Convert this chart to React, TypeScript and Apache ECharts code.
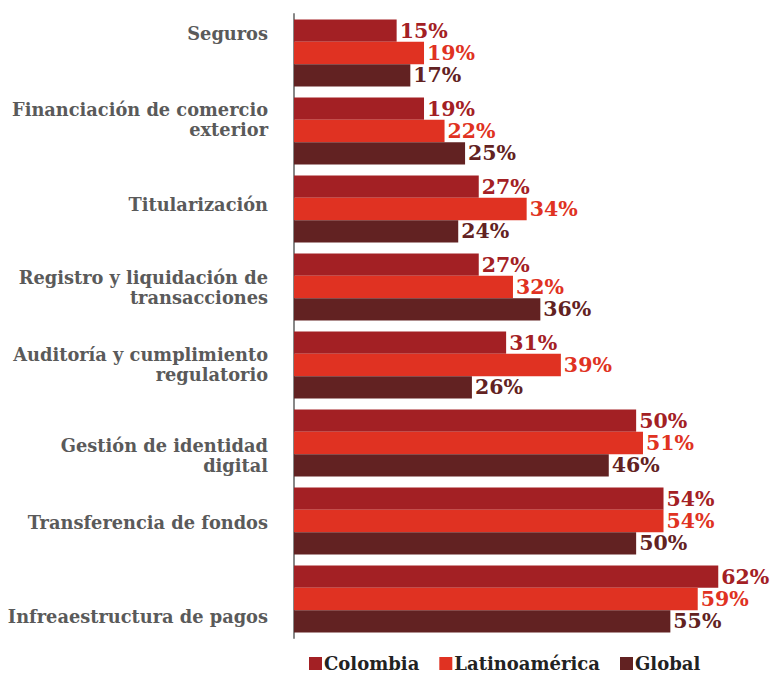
import React, { useEffect, useRef } from "react";
import * as echarts from "echarts";

const categories = [
  "Seguros",
  "Financiación de comercio\nexterior",
  "Titularización",
  "Registro y liquidación de\ntransacciones",
  "Auditoría y cumplimiento\nregulatorio",
  "Gestión de identidad\ndigital",
  "Transferencia de fondos",
  "Infreaestructura de pagos",
];
const colombia = [15, 19, 27, 27, 31, 50, 54, 62];
const latam = [19, 22, 34, 32, 39, 51, 54, 59];
const globalVals = [17, 25, 24, 36, 26, 46, 50, 55];
const seriesNames = ["Colombia", "Latinoamérica", "Global"];

// vertical nudges of the category labels (px, negative = up)
const labelNudge = [-20, -12, -5, 0, -1, 12, 1, 17];

const colors = ["#a32024", "#e03222", "#622222"];
const FONT = "DejaVu Serif";

export default function App() {
  const ref = useRef<HTMLDivElement>(null);
  useEffect(() => {
    const chart = echarts.init(ref.current!, null, { renderer: "svg" });
    const rich: any = {
      t: { fontFamily: FONT, fontWeight: "bold", fontSize: 17.8, color: "#5a5a5a", lineHeight: 20 },
    };
    labelNudge.forEach((d, i) => {
      rich["s" + i] = { height: Math.abs(d) * 2, lineHeight: Math.abs(d) * 2, fontSize: 1 };
    });
    const mk = (name: string, data: number[], color: string) => ({
      name,
      type: "bar",
      data,
      barGap: "0%",
      barCategoryGap: "14%",
      itemStyle: { color },
      label: {
        show: true,
        position: "right",
        distance: 3,
        formatter: "{c}%",
        color,
        fontFamily: FONT,
        fontWeight: "bold",
        fontSize: 20.5,
        lineHeight: 21,
      },
    });
    chart.setOption({
      animation: false,
      grid: { left: 294, right: 0, top: 14, bottom: 36, containLabel: false },
      xAxis: { type: "value", min: 0, max: 70, show: false },
      yAxis: {
        type: "category",
        inverse: true,
        data: categories,
        axisLine: { show: true, lineStyle: { color: "#888888", width: 2 } },
        axisTick: { show: false },
        axisLabel: {
          margin: 26,
          formatter: (v: string, i: number) => {
            const lines = v.split("\n").map((l) => `{t|${l}}`).join("\n");
            const d = labelNudge[i] || 0;
            if (d < 0) return `${lines}\n{s${i}| }`;
            if (d > 0) return `{s${i}| }\n${lines}`;
            return lines;
          },
          rich,
        },
      },
      legend: {
        top: 654,
        left: 309,
        padding: 0,
        icon: "rect",
        itemWidth: 13,
        itemHeight: 13,
        itemGap: 20,
        textStyle: {
          fontFamily: FONT,
          fontWeight: "bold",
          fontSize: 18,
          lineHeight: 19,
          color: "#222222",
          padding: [0, 0, 0, -3],
        },
        data: seriesNames,
      },
      series: [
        mk(seriesNames[0], colombia, colors[0]),
        mk(seriesNames[1], latam, colors[1]),
        mk(seriesNames[2], globalVals, colors[2]),
      ],
    });
    return () => chart.dispose();
  }, []);
  return (
    <div
      ref={ref}
      style={{ position: "absolute", left: 0, top: 0, width: 773, height: 674, background: "#ffffff" }}
    />
  );
}
